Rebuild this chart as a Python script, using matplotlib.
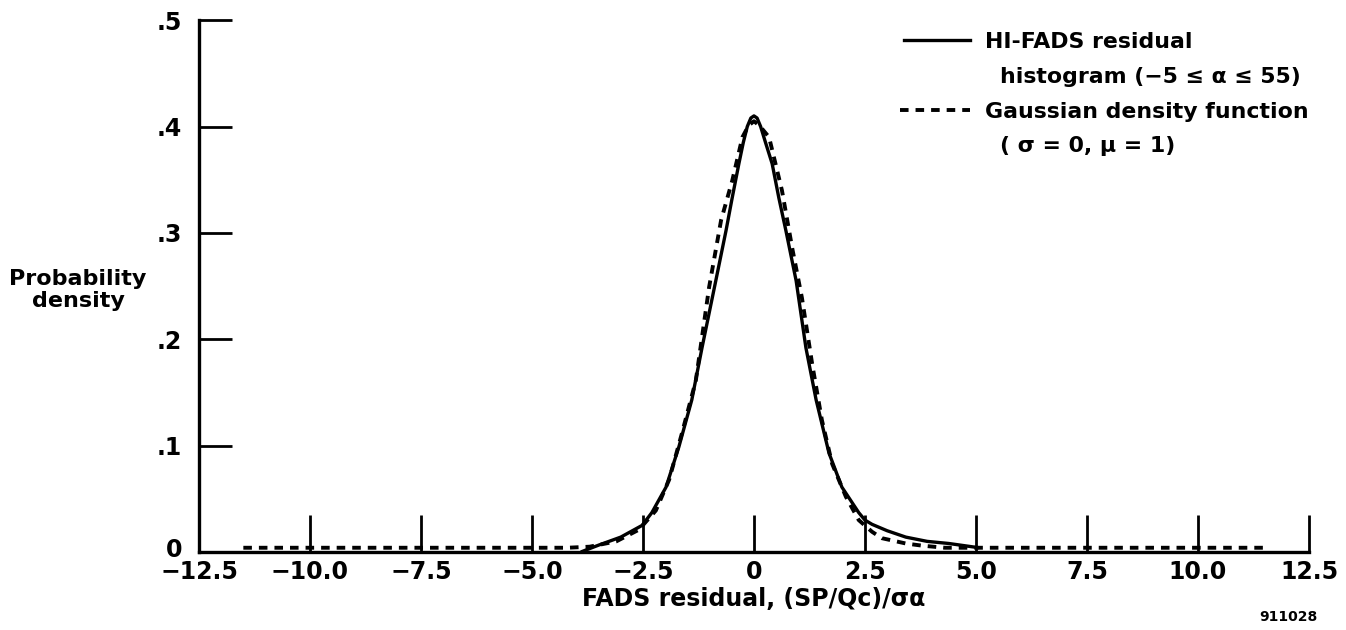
import matplotlib.pyplot as plt
import matplotlib.transforms as mtransforms

plt.rcParams['font.family'] = ['DejaVu Sans']
plt.rcParams['font.weight'] = 'bold'

# HI-FADS residual histogram (solid)
hist_x = [-3.9, -3.49, -3.0, -2.52, -2.30, -1.98, -1.69, -1.40, -1.17, -0.86, -0.63, -0.49, -0.34,
          -0.24, -0.15, -0.07, 0.0, 0.07, 0.15, 0.26, 0.41, 0.56, 0.72, 0.95, 1.17, 1.40, 1.69, 1.98,
          2.36, 2.5, 2.66, 3.0, 3.42, 3.9, 4.39, 5.07]
hist_y = [0.0, 0.0066, 0.014, 0.025, 0.037, 0.061, 0.099, 0.143, 0.192, 0.255, 0.302, 0.333, 0.365,
          0.385, 0.400, 0.408, 0.410, 0.408, 0.400, 0.385, 0.365, 0.333, 0.302, 0.255, 0.192, 0.143,
          0.093, 0.061, 0.037, 0.030, 0.026, 0.020, 0.014, 0.010, 0.008, 0.004]

# Gaussian density function (dashed)
gauss_x = [-11.5, -4.2, -3.7, -3.1, -2.59, -2.21, -1.91, -1.62, -1.31, -1.01, -0.74, -0.49, -0.26,
           -0.12, 0.0, 0.12, 0.34, 0.63, 0.86, 1.08, 1.31, 1.53, 1.76, 2.07, 2.36, 2.66, 2.88, 3.42,
           3.78, 4.3, 11.5]
gauss_y = [0.004, 0.004, 0.005, 0.010, 0.021, 0.039, 0.068, 0.112, 0.161, 0.249, 0.312, 0.349, 0.390,
           0.401, 0.405, 0.401, 0.390, 0.340, 0.286, 0.239, 0.177, 0.124, 0.083, 0.052, 0.030, 0.019,
           0.013, 0.008, 0.006, 0.004, 0.004]

x_ticks = [-12.5, -10.0, -7.5, -5.0, -2.5, 0, 2.5, 5.0, 7.5, 10.0, 12.5]
x_labels = ['\u221212.5', '\u221210.0', '\u22127.5', '\u22125.0', '\u22122.5', '0',
            '2.5', '5.0', '7.5', '10.0', '12.5']
y_ticks = [0, 0.1, 0.2, 0.3, 0.4, 0.5]
y_labels = ['0', '.1', '.2', '.3', '.4', '.5']

fs = 17
fs_leg = 15.8
dash = (0, (2.2, 1.8))

fig = plt.figure(figsize=(13.46, 6.3), dpi=100)
ax = fig.add_axes([0.1478, 0.1238, 0.8247, 0.8442])

ax.plot(hist_x, hist_y, color='black', lw=2.4, solid_capstyle='butt', solid_joinstyle='round')
ax.plot(gauss_x, gauss_y, color='black', lw=2.8, linestyle=dash)

ax.set_xlim(-12.5, 12.5)
ax.set_ylim(0, 0.5)
for s in ['top', 'right']:
    ax.spines[s].set_visible(False)
for s in ['left', 'bottom']:
    ax.spines[s].set_linewidth(2.4)

ax.set_xticks(x_ticks)
ax.set_xticklabels(x_labels, fontsize=fs, fontweight='bold')
ax.set_yticks(y_ticks)
ax.set_yticklabels(y_labels, fontsize=fs, fontweight='bold')
ax.tick_params(axis='x', direction='in', length=27, width=2.0, pad=6)
ax.tick_params(axis='y', direction='in', length=24, width=2.0, pad=12)
for t in ax.get_xticklines() + ax.get_yticklines():
    t.set_clip_on(False)

# nudge the y "0" up a touch so it clears the -12.5 below it
zero_lbl = ax.get_yticklabels()[0]
zero_lbl.set_transform(zero_lbl.get_transform() +
                       mtransforms.ScaledTranslation(0, 3 / 72, fig.dpi_scale_trans))

ax.set_xlabel('FADS residual, (SP/Qc)/\u03c3\u03b1', fontsize=fs, fontweight='bold', labelpad=2)
fig.text(0.058, 0.54, 'Probability\ndensity', ha='center', va='center', fontsize=16,
         fontweight='bold', linespacing=1.1)

# legend drawn by hand
ax.plot([0.635, 0.695], [0.963, 0.963], transform=ax.transAxes, color='black', lw=2.4, clip_on=False)
ax.plot([0.632, 0.695], [0.832, 0.832], transform=ax.transAxes, color='black', lw=2.8,
        linestyle=dash, clip_on=False)
fig.text(985 / 1346, 1 - 42 / 630, 'HI-FADS residual', fontsize=fs_leg, fontweight='bold', va='center')
fig.text(1000 / 1346, 1 - 77 / 630, 'histogram (\u22125 \u2264 \u03b1 \u2264 55)', fontsize=fs_leg,
         fontweight='bold', va='center')
fig.text(985 / 1346, 1 - 112 / 630, 'Gaussian density function', fontsize=fs_leg, fontweight='bold',
         va='center')
fig.text(1000 / 1346, 1 - 146 / 630, '( \u03c3 = 0, \u03bc = 1)', fontsize=fs_leg, fontweight='bold',
         va='center')

fig.text(1288 / 1346, 1 - 617 / 630, '911028', fontsize=10, fontweight='bold', ha='center', va='center')

fig.savefig('out.png', dpi=100)
